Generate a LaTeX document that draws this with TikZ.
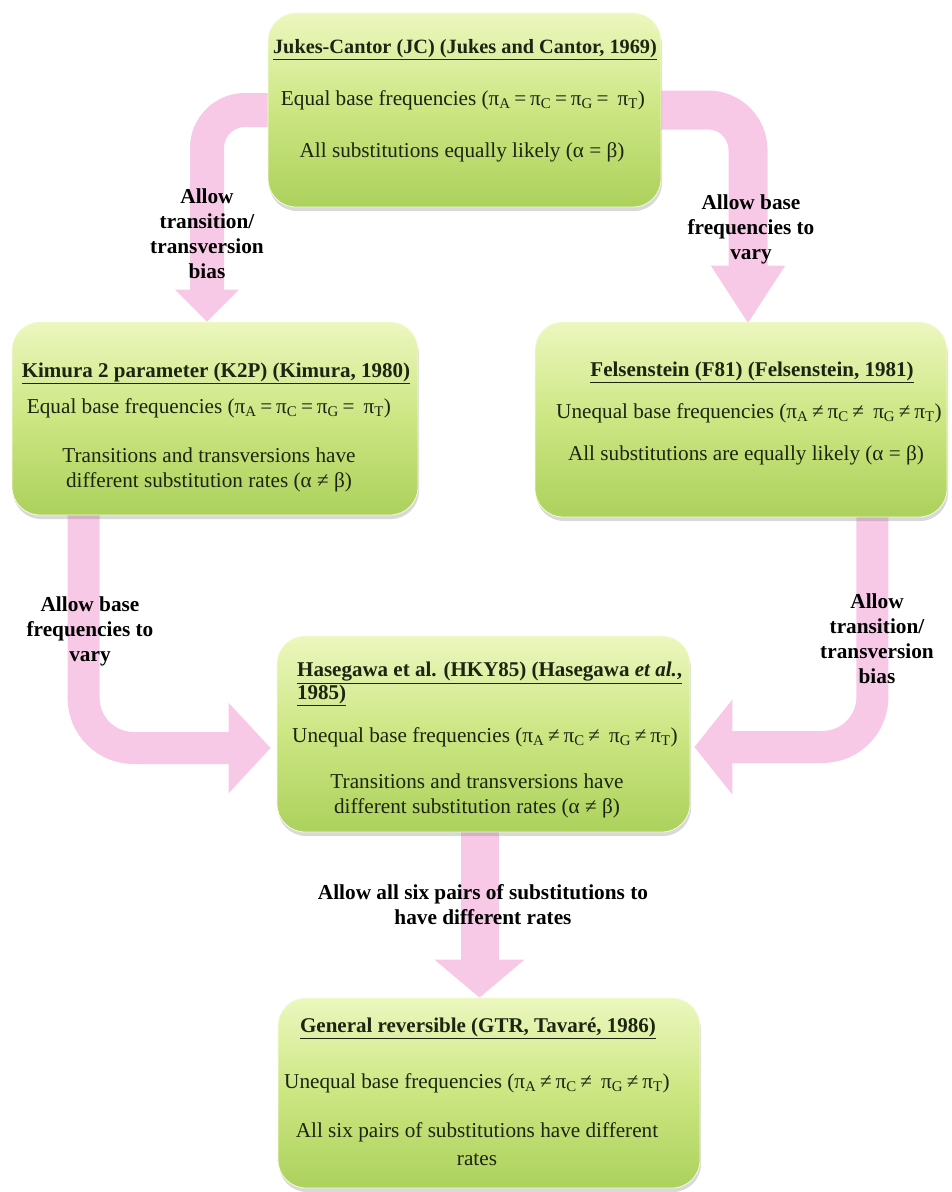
\documentclass[tikz,border=0pt]{standalone}
\usepackage{fontspec}
\setmainfont{Liberation Serif}
\usetikzlibrary{arrows.meta,shadows,calc}
\pgfdeclarelayer{bg}
\pgfsetlayers{bg,main}
\definecolor{pinkarr}{RGB}{248,200,231}
\definecolor{boxtop}{RGB}{236,247,190}
\definecolor{boxmid}{RGB}{204,230,130}
\definecolor{boxbot}{RGB}{172,209,92}
\definecolor{txtcol}{RGB}{28,36,18}
\newcommand\pisub[1]{π\textsubscript{#1}}
\newcommand\eqs{\hspace{0.18em}=\hspace{0.18em}}
\newcommand\nes{\hspace{0.18em}≠\hspace{0.18em}}
\begin{document}
\begin{tikzpicture}[x=1pt,y=-1pt,
  modelbox/.style={rectangle, rounded corners=28pt, draw=boxtop!50!white, line width=0.8pt,
    top color=boxtop, bottom color=boxbot, middle color=boxmid,
    drop shadow={shadow xshift=1pt,shadow yshift=-4pt,opacity=0.3}, inner sep=0pt},
  ttl/.style={font=\fontsize{21}{19}\selectfont\bfseries, inner sep=0pt, text=txtcol, align=left},
  bodytxt/.style={font=\fontsize{21.2}{25}\selectfont, inner sep=0pt, text=txtcol, align=center},
  lbltxt/.style={font=\fontsize{21.3}{25}\selectfont\bfseries, inner sep=0pt, text=black, align=center},
  band/.style={draw=pinkarr, line cap=butt}
]
\useasboundingbox (0,0) rectangle (951,1192);

% boxes
\node[modelbox, minimum width=393pt, minimum height=194pt] (jc) at (464.5,110) {};
\node[modelbox, minimum width=406pt, minimum height=193pt] (k2p) at (215,418.5) {};
\node[modelbox, minimum width=412pt, minimum height=195pt] (f81) at (741,419.5) {};
\node[modelbox, minimum width=413pt, minimum height=196pt] (hky) at (483.5,734) {};
\node[modelbox, minimum width=422pt, minimum height=190pt] (gtr) at (489,1093) {};

% JC text
\node[ttl, font=\fontsize{20.3}{19}\selectfont\bfseries] (jcT) at (465,50) {\underline{Jukes-Cantor (JC) (Jukes and Cantor, 1969)}};
\node[bodytxt] (jc1) at (463,100) {Equal base frequencies (\pisub{A}\eqs\pisub{C}\eqs\pisub{G}\eqs\ \pisub{T})};
\node[bodytxt] (jc2) at (462,152) {All substitutions equally likely (α = β)};

% K2P text
\node[ttl] (k2pT) at (216,373) {\underline{Kimura 2 parameter (K2P) (Kimura, 1980)}};
\node[bodytxt] (k2p1) at (209,408) {Equal base frequencies (\pisub{A}\eqs\pisub{C}\eqs\pisub{G}\eqs\ \pisub{T})};
\node[bodytxt] (k2p2) at (209,469.5) {Transitions and transversions have\\different substitution rates (α ≠ β)};

% F81 text
\node[ttl] (f81T) at (752,372) {\underline{Felsenstein (F81) (Felsenstein, 1981)}};
\node[bodytxt] (f811) at (749,413) {Unequal base frequencies (\pisub{A}\nes\pisub{C}\nes\ \pisub{G}\nes\pisub{T})};
\node[bodytxt] (f812) at (746,455) {All substitutions are equally likely (α = β)};

% HKY text
\node[ttl, anchor=west] (hkyT) at (297,684) {\underline{Hasegawa et al. (HKY85) (Hasegawa \textit{et al.},}\\\underline{1985)}};
\node[bodytxt] (hky1) at (485,737) {Unequal base frequencies (\pisub{A}\nes\pisub{C}\nes\ \pisub{G}\nes\pisub{T})};
\node[bodytxt] (hky2) at (477,795.5) {Transitions and transversions have\\different substitution rates (α ≠ β)};

% GTR text
\node[ttl] (gtrT) at (478,1028) {\underline{General reversible (GTR, Tavaré, 1986)}};
\node[bodytxt] (gtr1) at (477,1083) {Unequal base frequencies (\pisub{A}\nes\pisub{C}\nes\ \pisub{G}\nes\pisub{T})};
\node[bodytxt, font=\fontsize{21.2}{28}\selectfont] (gtr2) at (477,1144) {All six pairs of substitutions have different\\rates};

% arrows (behind boxes)
\begin{pgfonlayer}{bg}
\draw[band, line width=34pt, rounded corners=38pt, -{Triangle[width=62pt,length=32pt]}]
  (jc.center) -| ([xshift=-8pt]k2p.north);
\draw[band, line width=39pt, rounded corners=40pt, -{Triangle[width=70pt,length=58pt]}]
  (jc.center) -| ([xshift=7pt,yshift=-2pt]f81.north);
\draw[band, line width=32pt, rounded corners=50pt, -{Triangle[width=88pt,length=42pt]}]
  ([xshift=72pt,yshift=10pt]k2p.south west) |- ([yshift=-14pt,xshift=-6pt]hky.west);
\draw[band, line width=32pt, rounded corners=50pt, -{Triangle[width=93pt,length=38pt]}]
  ([xshift=-75pt,yshift=10pt]f81.south east) |- ([yshift=-13pt,xshift=4pt]hky.east);
\draw[band, line width=38pt, -{Triangle[width=88pt,length=38pt]}]
  ([xshift=-4pt]hky.center) -- ([xshift=-4pt]hky.center |- gtr.north);
\end{pgfonlayer}

% labels
\node[lbltxt] (l1) at (207,234) {Allow\\transition/\\transversion\\bias};
\node[lbltxt] (l2) at (751,229) {Allow base\\frequencies to\\vary};
\node[lbltxt] (l3) at (90,631) {Allow base\\frequencies to\\vary};
\node[lbltxt] (l4) at (877,638.5) {Allow\\transition/\\transversion\\bias};
\node[lbltxt] (l5) at (483,904.5) {Allow all six pairs of substitutions to\\have different rates};
\end{tikzpicture}
\end{document}
